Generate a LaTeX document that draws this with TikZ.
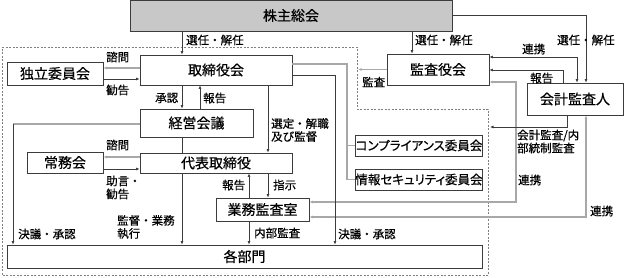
\documentclass[tikz,border=0pt]{standalone}
\usepackage{fontspec}
\setmainfont{Noto Sans CJK JP}[FakeBold=0.5]
\newfontfamily\kanafont[RawFeature=+palt,FakeBold=0.5]{Noto Sans CJK JP}
\usetikzlibrary{arrows.meta}
\definecolor{linegray}{HTML}{3C3C3C}
\definecolor{lightline}{HTML}{A8A8A8}
\definecolor{boxgray}{HTML}{C8C8C8}
\begin{document}
\begin{tikzpicture}[x=1pt,y=-1pt,
  box/.style 2 args={draw=linegray,line width=0.7pt,fill=white,inner sep=0pt,
    minimum width=#1,minimum height=#2,font=\fontsize{14}{14}\selectfont},
  kanabox/.style={font=\kanafont\fontsize{12.5}{12.5}\selectfont},
  lbl/.style={anchor=west,inner sep=0pt,align=left,font=\fontsize{11.5}{13}\selectfont},
  link/.style={draw=linegray,line width=0.6pt},
  glink/.style={draw=lightline,line width=1.2pt},
  arr/.style={link,-{Latex[length=3.5pt,width=2.8pt]}},
  garr/.style={glink,-{Latex[length=3.5pt,width=2.8pt]}},
  arrs/.style={link,{Latex[length=3.5pt,width=2.8pt]}-{Latex[length=3.5pt,width=2.8pt]}},
  garrs/.style={glink,{Latex[length=3.5pt,width=2.8pt]}-{Latex[length=3.5pt,width=2.8pt]}},
  frame/.style={draw=gray,line width=0.6pt,dash pattern=on 2pt off 1.5pt}]
\useasboundingbox (0,0) rectangle (625,277);
\draw[frame] (2,47) -- (357,47) -- (357,109) -- (488,109) -- (488,275) -- (2,275) -- cycle;
\coordinate (edgeA) at (358,69.5);
\coordinate (edgeB) at (490,127);
\node[box={322}{31},fill=boxgray] (agm) at (291,15.5) {株主総会};
\node[box={152}{30}] (board) at (216,70) {取締役会};
\node[box={96}{23}] (indep) at (55,73.5) {独立委員会};
\node[box={102}{31}] (kansa) at (438,69.5) {監査役会};
\node[box={96}{32}] (auditor) at (575,99) {会計監査人};
\node[box={113}{28}] (mgmt) at (196.5,123) {経営会議};
\node[box={152}{20}] (exec) at (216,163) {代表取締役};
\node[box={76}{21}] (jomu) at (65,162.5) {常務会};
\node[box={124}{21},kanabox] (comp) at (419,145.5) {コンプライアンス委員会};
\node[box={124}{21},kanabox] (infosec) at (419,179.5) {情報セキュリティ委員会};
\node[box={93}{23}] (audit) at (262.5,209.5) {業務監査室};
\node[box={475}{23}] (depts) at (244.5,256.5) {各部門};
\draw[arr] (182,0 |- agm.south) -- (182,0 |- board.north);
\draw[arr] (412,0 |- agm.south) -- (412,0 |- kansa.north);
\draw[arr] (agm.east) -| (586,0 |- auditor.north);
\draw[arrs] (kansa.east |- 0,57) -| (577,0 |- auditor.north);
\draw[arr] (563,0 |- auditor.north) |- (kansa.east |- 0,70);
\draw[garrs] (kansa.east |- 0,82) -| (516,202) -- (audit.east |- 0,202);
\draw[arr] (567,0 |- auditor.south) |- (edgeB);
\draw[garrs] (586,0 |- auditor.south) |- (audit.east |- 0,217);
\draw[garr] (kansa.west) -- (edgeA);
\draw[garr] (board.west |- 0,68) -- (indep.east |- 0,68);
\draw[arr] (indep.east |- 0,79) -- (board.west |- 0,79);
\draw[arr] (182,0 |- board.south) -- (182,0 |- mgmt.north);
\draw[arr] (200,0 |- mgmt.north) -- (200,0 |- board.south);
\draw[arr] (268,0 |- board.south) -- (268,0 |- exec.north);
\draw[arr] (board.east |- 0,75) -| (335,0 |- depts.north);
\draw[glink] (board.east |- 0,64) -| (347,0 |- infosec.west) -- (infosec.west);
\draw[glink] (347,0 |- comp.west) -- (comp.west);
\draw[glink] (mgmt.west |- 0,124) -- (13,124);
\draw[arr] (13,124) -- (13,0 |- depts.north);
\draw[link] (182,0 |- mgmt.south) -- (182,0 |- exec.north);
\draw[arr] (182,0 |- exec.south) -- (182,0 |- depts.north);
\draw[garr] (exec.west |- 0,157) -- (jomu.east |- 0,157);
\draw[arr] (jomu.east |- 0,169) -- (exec.west |- 0,169);
\draw[arr] (249,0 |- audit.north) -- (249,0 |- exec.south);
\draw[arr] (268,0 |- exec.south) -- (268,0 |- audit.north);
\draw[arr] (249,0 |- audit.south) -- (249,0 |- depts.north);
\node[lbl] (l1) at (186,40) {選任・解任};
\node[lbl] (l2) at (415,40) {選任・解任};
\node[lbl] (l3) at (557,40) {選任・解任};
\node[lbl] (l4) at (522,49) {連携};
\node[lbl] (l5) at (530,78) {報告};
\node[lbl] (l6) at (362,82) {監査};
\node[lbl] (l7) at (517,141.5) {会計監査/内\\部統制監査};
\node[lbl] (l8) at (518,180) {連携};
\node[lbl] (l9) at (590,211) {連携};
\node[lbl] (l10) at (338,234) {決議・承認};
\node[lbl] (l11) at (254,233) {内部監査};
\node[lbl] (l12) at (222,185) {報告};
\node[lbl] (l13) at (273,185) {指示};
\node[lbl] (l14) at (117,227) {監督・業務\\執行};
\node[lbl] (l15) at (18,234) {決議・承認};
\node[lbl] (l16) at (106,187.5) {助言・\\勧告};
\node[lbl] (l17) at (106,145) {諮問};
\node[lbl] (l18) at (106,57) {諮問};
\node[lbl] (l19) at (106,90) {勧告};
\node[lbl] (l20) at (271,130) {選定・解職\\及び監督};
\node[lbl] (l21) at (155,98) {承認};
\node[lbl] (l22) at (203,98) {報告};
\end{tikzpicture}
\end{document}
